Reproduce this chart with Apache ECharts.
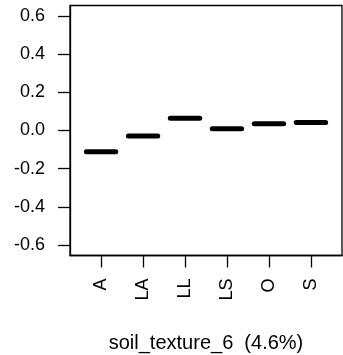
<!DOCTYPE html>
<html>
<head>
<meta charset="utf-8">
<script src="https://cdn.jsdelivr.net/npm/echarts@6/dist/echarts.min.js"></script>
<style>
  html, body { margin: 0; padding: 0; background: #fff; }
  #chart { width: 343px; height: 355px; }
</style>
</head>
<body>
<div id="chart"></div>
<script>
// Partial effect of each soil texture class
const categories = ['A', 'LA', 'LL', 'LS', 'O', 'S'];
const effects = [-0.111, -0.029, 0.064, 0.009, 0.036, 0.042];
const yTicks = [-0.6, -0.4, -0.2, 0.0, 0.2, 0.4, 0.6];
const axisTitle = 'soil_texture_6  (4.6%)';

const positions = categories.map((_, i) => i + 1);
const FONT = '"Liberation Sans", Arial, sans-serif';

const chart = echarts.init(document.getElementById('chart'), null, { renderer: 'canvas' });

chart.setOption({
  animation: false,
  backgroundColor: '#fff',
  grid: {
    left: 70, right: 1, top: 5.5, bottom: 99.5,
    outerBoundsMode: 'none',
    containLabel: false,
    show: true, borderColor: '#000', borderWidth: 1.3, backgroundColor: 'transparent'
  },
  xAxis: {
    type: 'value',
    min: 0.26, max: 6.74,
    splitLine: { show: false },
    axisLine: { show: true, onZero: false, lineStyle: { color: '#000', width: 1.3 } },
    axisTick: {
      show: true, length: 12, inside: false,
      customValues: positions,
      lineStyle: { color: '#000', width: 1.3 }
    },
    axisLabel: {
      show: true, rotate: 90, margin: 23,
      customValues: positions,
      formatter: v => categories[Math.round(v) - 1] || '',
      color: '#000', fontSize: 18, fontFamily: FONT
    },
    name: axisTitle,
    nameLocation: 'middle',
    nameGap: 78,
    nameTextStyle: { color: '#000', fontSize: 20, fontFamily: FONT }
  },
  yAxis: {
    type: 'value',
    min: -0.655, max: 0.655,
    splitLine: { show: false },
    axisLine: { show: true, onZero: false, lineStyle: { color: '#000', width: 1.3 } },
    axisTick: {
      show: true, length: 12, inside: false,
      customValues: yTicks,
      lineStyle: { color: '#000', width: 1.3 }
    },
    axisLabel: {
      show: true, margin: 25,
      customValues: yTicks,
      formatter: v => v.toFixed(1),
      color: '#000', fontSize: 18, fontFamily: FONT
    }
  },
  series: [{
    type: 'custom',
    data: positions.map((p, i) => [p, effects[i]]),
    encode: { x: 0, y: 1 },
    clip: false,
    renderItem: (params, api) => {
      const x = api.value(0);
      const y = api.value(1);
      const a = api.coord([x - 0.35, y]);
      const b = api.coord([x + 0.35, y]);
      return {
        type: 'line',
        shape: { x1: a[0], y1: a[1], x2: b[0], y2: b[1] },
        style: { stroke: '#000', lineWidth: 5, lineCap: 'round' }
      };
    }
  }]
});
</script>
</body>
</html>
